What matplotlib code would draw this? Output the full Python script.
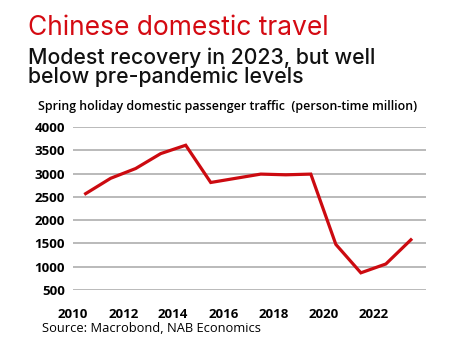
import numpy as np
import matplotlib
matplotlib.use('Agg')
import matplotlib.pyplot as plt

# Spring holiday domestic passenger traffic, person-time million
years = [2010, 2011, 2012, 2013, 2014, 2015, 2016, 2017, 2018, 2019, 2020, 2021, 2022, 2023]
traffic = [2570, 2900, 3110, 3430, 3610, 2810, 2900, 2990, 2975, 2990, 1480, 870, 1060, 1580]
xticks = [2010, 2012, 2014, 2016, 2018, 2020, 2022]
yticks = [500, 1000, 1500, 2000, 2500, 3000, 3500, 4000]

red = '#d40a12'

fig = plt.figure(figsize=(4.57, 3.52), dpi=100)
ax = fig.add_axes([0.16, 0.176, 0.772, 0.463])

# yearly values plotted mid-year
x = np.array(years) + 0.5
ax.plot(x, traffic, color='#cc0a10', lw=2.3, solid_joinstyle='miter', zorder=3)

ax.set_xlim(2010, 2024.1)
ax.set_ylim(500, 4000)
ax.set_xticks(xticks)
ax.set_yticks(yticks)
ax.set_xticklabels([str(t) for t in xticks], fontsize=9.5, fontweight='bold', family='Open Sans')
ax.set_yticklabels([str(t) for t in yticks], fontsize=9.5, fontweight='bold', family='Open Sans')
ax.tick_params(length=0, pad=6)
ax.tick_params(axis='x', pad=13)
ax.grid(axis='y', color='#b4b4b4', lw=1.3)
ax.set_axisbelow(True)
for s in ax.spines.values():
    s.set_visible(False)

fig.text(0.061, 0.90, 'Chinese domestic travel', color=red, fontsize=19, family='Inter',
         va='baseline')
fig.text(0.061, 1 - 64 / 352, 'Modest recovery in 2023, but well', color='#111111',
         fontsize=15.3, family='Inter', fontweight='medium', va='baseline')
fig.text(0.061, 1 - 83 / 352, 'below pre-pandemic levels', color='#111111',
         fontsize=15.3, family='Inter', fontweight='medium', va='baseline')
fig.text(0.083, 1 - 110 / 352, 'Spring holiday domestic passenger traffic  (person-time million)',
         fontsize=8.9, family='Open Sans', fontweight='semibold', va='baseline')
fig.text(0.092, 0.057, 'Source: Macrobond, NAB Economics', fontsize=9.3, family='Open Sans',
         va='baseline')

fig.savefig('out.png', dpi=100)
